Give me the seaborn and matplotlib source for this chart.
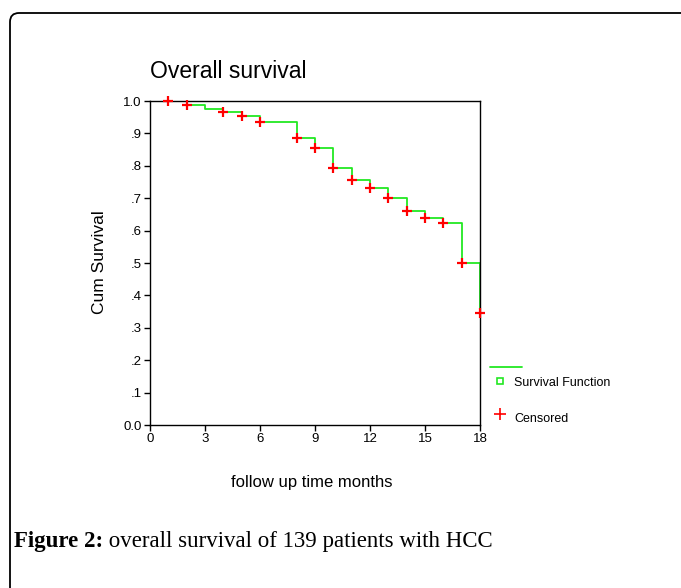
import numpy as np
import matplotlib.pyplot as plt
import seaborn as sns
import pandas as pd
from matplotlib.lines import Line2D
from matplotlib.patches import FancyBboxPatch

# survival step function (months, cumulative survival)
step_time = [0, 2, 3, 4, 5, 6, 8, 9, 10, 11, 12, 13, 14, 15, 16, 17, 18]
step_surv = [1.0, 0.989, 0.974, 0.967, 0.954, 0.936, 0.885, 0.855, 0.792,
             0.757, 0.732, 0.702, 0.661, 0.638, 0.622, 0.499, 0.347]

# censored marks
cens_time = [1, 2, 4, 5, 6, 8, 9, 10, 11, 12, 13, 14, 15, 16, 17, 18]
cens_surv = [1.0, 0.989, 0.967, 0.954, 0.936, 0.885, 0.855, 0.792,
             0.757, 0.732, 0.702, 0.661, 0.638, 0.622, 0.499, 0.347]

x_ticks = [0, 3, 6, 9, 12, 15, 18]
y_ticks = [0.0, 0.1, 0.2, 0.3, 0.4, 0.5, 0.6, 0.7, 0.8, 0.9, 1.0]
y_tick_labels = ["0.0", ".1", ".2", ".3", ".4", ".5", ".6", ".7", ".8", ".9", "1.0"]

sns.set_style("white")
plt.rcParams['font.family'] = ['Liberation Sans', 'DejaVu Sans']
plt.rcParams['text.color'] = 'black'
plt.rcParams['xtick.color'] = 'black'
plt.rcParams['ytick.color'] = 'black'

W, H = 681, 588
fig = plt.figure(figsize=(W / 100, H / 100), dpi=100)

def px(x, y):
    return x / W, 1 - y / H

# outer rounded frame
frame = FancyBboxPatch((0.10, -1.0), 7.5, 5.75 + 1.0,
                       boxstyle="round,pad=0,rounding_size=0.09",
                       transform=fig.dpi_scale_trans, fill=False,
                       ec="black", lw=1.3)
fig.patches.append(frame)

ax = fig.add_axes([150 / W, 1 - 425 / H, 330 / W, 324 / H])

surv_df = pd.DataFrame({"time": step_time, "surv": step_surv})
cens_df = pd.DataFrame({"time": cens_time, "surv": cens_surv})

sns.lineplot(data=surv_df, x="time", y="surv", ax=ax, drawstyle="steps-post",
             color="#22e822", lw=1.3, estimator=None, sort=True)
pts = sns.scatterplot(data=cens_df, x="time", y="surv", ax=ax, marker="+",
                      color="#ff0000", s=55, linewidth=1.6, zorder=5)
for c in ax.collections:
    c.set_clip_on(False)

ax.set_xlim(0, 18)
ax.set_ylim(0, 1.0)
ax.set_xticks(x_ticks)
ax.set_xticklabels([str(t) for t in x_ticks])
ax.set_yticks(y_ticks)
ax.set_yticklabels(y_tick_labels)
ax.tick_params(axis="both", direction="out", length=4, width=1, labelsize=9.5,
               colors="black", left=True, bottom=True, pad=2)
for s in ax.spines.values():
    s.set_color("black")
    s.set_linewidth(1.0)
ax.set_xlabel("")
ax.set_ylabel("")

fig.text(*px(150, 72), "Overall survival", fontsize=16.5, ha="left", va="center")
fig.text(*px(100, 262), "Cum Survival", fontsize=12.5, rotation=90,
         ha="center", va="center")
fig.text(*px(312, 483), "follow up time months", fontsize=12,
         ha="center", va="center")

# legend (SPSS style)
fig.add_artist(Line2D([490 / W, 522 / W], [1 - 367 / H] * 2,
                      transform=fig.transFigure, color="#22e822", lw=1.3))
fig.add_artist(Line2D([500 / W], [1 - 380.5 / H], transform=fig.transFigure,
                      marker="s", ms=4, mfc="none", mec="#22e822", mew=1.2, ls="none"))
fig.add_artist(Line2D([500 / W], [1 - 414 / H], transform=fig.transFigure,
                      marker="+", ms=8, color="#ff0000", mew=1.2, ls="none"))
fig.text(*px(514, 383), "Survival Function", fontsize=9, ha="left", va="center")
fig.text(*px(514, 419), "Censored", fontsize=9, ha="left", va="center")

# caption
cap = fig.text(*px(14, 541), "Figure 2:", fontsize=16.5, fontweight="bold",
               family=["Liberation Serif", "DejaVu Serif"], ha="left", va="center")
ax.annotate(" overall survival of 139 patients with HCC", xy=(1, 0.5),
            xycoords=cap, va="center", ha="left", fontsize=16.5,
            family=["Liberation Serif", "DejaVu Serif"], annotation_clip=False)

fig.savefig("out.png", dpi=100)
